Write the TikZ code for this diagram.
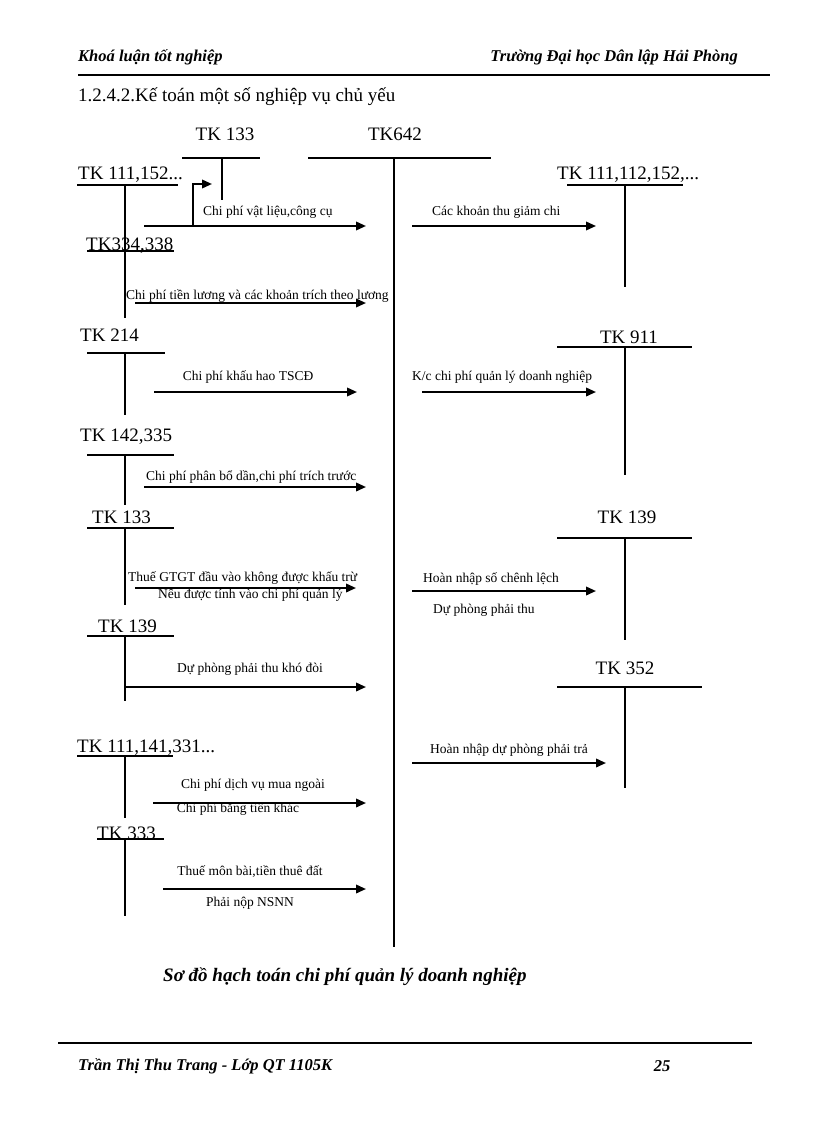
\documentclass[tikz,border=0pt]{standalone}
\usepackage{fontspec}
\setmainfont{Liberation Serif}
\usetikzlibrary{arrows.meta}
\begin{document}
\begin{tikzpicture}[x=1pt,y=-1pt,
  tk/.style={font=\fontsize{19}{21}\selectfont, inner sep=0pt},
  lbl/.style={font=\fontsize{13.5}{15}\selectfont, inner sep=0pt},
  hdr/.style={font=\fontsize{16.5}{18}\selectfont\bfseries\itshape, inner sep=0pt},
  tline/.style={line width=1.5pt},
  rule/.style={line width=1.3pt},
  arr/.style={line width=2pt, -{Triangle[length=10pt,width=8.5pt]}}]
\fill[white] (0,0) rectangle (816,1123);
\useasboundingbox (0,0) rectangle (816,1123);
% header / footer
\node[hdr,anchor=west] (h1) at (78,57) {Khoá luận tốt nghiệp};
\node[hdr,anchor=east] (h2) at (738,57) {Trường Đại học Dân lập Hải Phòng};
\draw[rule] (78,75) -- (770,75);
\node[anchor=west,inner sep=0pt,font=\fontsize{19}{21}\selectfont] (sec) at (78,97) {1.2.4.2.Kế toán một số nghiệp vụ chủ yếu};
\node[anchor=west,inner sep=0pt,font=\fontsize{19}{21}\selectfont\bfseries\itshape] (cap) at (163,977) {Sơ đồ hạch toán chi phí quản lý doanh nghiệp};
\draw[rule] (58,1043) -- (752,1043);
\node[hdr,anchor=west] (f1) at (78,1066) {Trần Thị Thu Trang - Lớp QT 1105K};
\node[hdr] (f2) at (662,1066) {25};
% central account TK642
\node[tk] (t642) at (395,134) {TK642};
\draw[tline] (308,158) -- (491,158);
\draw[line width=1.9pt] (394,158) -- (394,947);
% TK 133 top
\node[tk] (t133a) at (225,134) {TK 133};
\draw[tline] (182,158) -- (260,158);
\draw[tline] (222,158) -- (222,200);
% left accounts
\node[tk,anchor=west] (t111) at (78,175) {TK 111,152...};
\draw[tline] (77,185) -- (178,185);
\draw[tline] (125,185) -- (125,318);
\node[tk,anchor=west] (t334) at (86,246) {TK334,338};
\draw[tline] (87,251) -- (174,251);
\node[tk,anchor=west] (t214) at (80,335) {TK 214};
\draw[tline] (87,353) -- (165,353);
\draw[tline] (125,353) -- (125,415);
\node[tk,anchor=west] (t142) at (80,437) {TK 142,335};
\draw[tline] (87,455) -- (174,455);
\draw[tline] (125,455) -- (125,505);
\node[tk,anchor=west] (t133b) at (92,517) {TK 133};
\draw[tline] (87,528) -- (174,528);
\draw[tline] (125,528) -- (125,605);
\node[tk,anchor=west] (t139a) at (98,626) {TK 139};
\draw[tline] (87,636) -- (174,636);
\draw[tline] (125,636) -- (125,701);
\node[tk,anchor=west] (t1113) at (77,748) {TK 111,141,331...};
\draw[tline] (77,756) -- (173,756);
\draw[tline] (125,756) -- (125,818);
\node[tk,anchor=west] (t333) at (97,833) {TK 333};
\draw[tline] (97,839) -- (164,839);
\draw[tline] (125,839) -- (125,916);
% right accounts
\node[tk,anchor=west] (t1112) at (557,175) {TK 111,112,152,...};
\draw[tline] (567,185) -- (683,185);
\draw[tline] (625,185) -- (625,287);
\node[tk] (t911) at (629,337) {TK 911};
\draw[tline] (557,347) -- (692,347);
\draw[tline] (625,347) -- (625,475);
\node[tk] (t139b) at (627,517) {TK 139};
\draw[tline] (557,538) -- (692,538);
\draw[tline] (625,538) -- (625,640);
\node[tk] (t352) at (625,668) {TK 352};
\draw[tline] (557,687) -- (702,687);
\draw[tline] (625,687) -- (625,788);
% arrow end points
\coordinate (a1s) at (144,226); \coordinate (a1e) at (366,226);
\coordinate (b1s) at (193,226); \coordinate (b1m) at (193,184); \coordinate (b1e) at (212,184);
\coordinate (a2s) at (135,303); \coordinate (a2e) at (366,303);
\coordinate (a3s) at (154,392); \coordinate (a3e) at (357,392);
\coordinate (a4s) at (144,487); \coordinate (a4e) at (366,487);
\coordinate (a5s) at (135,588); \coordinate (a5e) at (356,588);
\coordinate (a6s) at (125,687); \coordinate (a6e) at (366,687);
\coordinate (a7s) at (153,803); \coordinate (a7e) at (366,803);
\coordinate (a8s) at (163,889); \coordinate (a8e) at (366,889);
\coordinate (r1s) at (412,226); \coordinate (r1e) at (596,226);
\coordinate (r2s) at (422,392); \coordinate (r2e) at (596,392);
\coordinate (r3s) at (412,591); \coordinate (r3e) at (596,591);
\coordinate (r4s) at (412,763); \coordinate (r4e) at (606,763);
% arrows
\draw[arr] (a1s) -- (a1e);
\draw[arr] (b1s) -- (b1m) -- (b1e);
\draw[arr] (a2s) -- (a2e);
\draw[arr] (a3s) -- (a3e);
\draw[arr] (a4s) -- (a4e);
\draw[arr] (a5s) -- (a5e);
\draw[arr] (a6s) -- (a6e);
\draw[arr] (a7s) -- (a7e);
\draw[arr] (a8s) -- (a8e);
\draw[arr] (r1s) -- (r1e);
\draw[arr] (r2s) -- (r2e);
\draw[arr] (r3s) -- (r3e);
\draw[arr] (r4s) -- (r4e);
% labels
\node[lbl,anchor=west] (l1) at (203,212) {Chi phí vật liệu,công cụ};
\node[lbl,anchor=west] (l2) at (126,296) {Chi phí tiền lương và các khoản trích theo lương};
\node[lbl] (l3) at (248,377) {Chi phí khấu hao TSCĐ};
\node[lbl,anchor=west] (l4) at (146,477) {Chi phí phân bổ dần,chi phí trích trước};
\node[lbl,anchor=west] (l5) at (128,578) {Thuế GTGT đầu vào không được khấu trừ};
\node[lbl,anchor=west] (l5b) at (158,595) {Nếu được tính vào chi phí quản lý};
\node[lbl] (l6) at (250,669) {Dự phòng phải thu khó đòi};
\node[lbl] (l7) at (253,785) {Chi phí dịch vụ mua ngoài};
\node[lbl] (l7b) at (238,809) {Chi phí bằng tiền khác};
\node[lbl] (l8) at (250,872) {Thuế môn bài,tiền thuê đất};
\node[lbl] (l8b) at (250,903) {Phải nộp NSNN};
\node[lbl,anchor=west] (m1) at (432,212) {Các khoản thu giảm chi};
\node[lbl,anchor=west] (m2) at (412,377) {K/c chi phí quản lý doanh nghiệp};
\node[lbl,anchor=west] (m3) at (423,579) {Hoàn nhập số chênh lệch};
\node[lbl,anchor=west] (m3b) at (433,610) {Dự phòng phải thu};
\node[lbl,anchor=west] (m4) at (430,750) {Hoàn nhập dự phòng phải trả};
\end{tikzpicture}
\end{document}
